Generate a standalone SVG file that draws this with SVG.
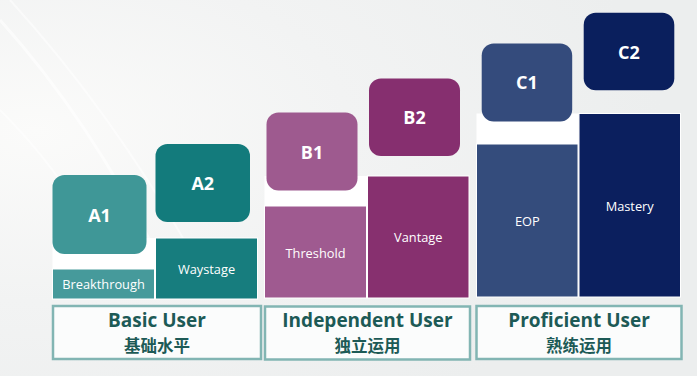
<svg xmlns="http://www.w3.org/2000/svg" width="697" height="376" viewBox="0 0 697 376">
<defs>
<radialGradient id="bg" cx="0.05" cy="0.35" r="0.9">
<stop offset="0" stop-color="#fbfbfa"/>
<stop offset="0.5" stop-color="#f2f3f3"/>
<stop offset="1" stop-color="#eceeee"/>
</radialGradient>
<style>
.pill{stroke:none}
.lbl{font-family:"Open Sans","Liberation Sans",sans-serif;font-weight:700;font-size:18px;fill:#ffffff;text-anchor:middle;dominant-baseline:central}
.sub{font-family:"Open Sans","Liberation Sans",sans-serif;font-size:12.8px;fill:#ffffff;text-anchor:middle;dominant-baseline:central}
.bar{stroke:#ffffff;stroke-width:1}
.grp{fill:#fbfcfc;stroke:#82b5b3;stroke-width:2.5}
.en{font-family:"Open Sans","Liberation Sans",sans-serif;font-weight:700;font-size:19px;fill:#1d5a56;text-anchor:middle}
.zh{font-family:"Noto Sans CJK SC",sans-serif;font-weight:700;font-size:16.5px;fill:#1d5a56;text-anchor:middle}
.gap{fill:#ffffff}
</style>
</defs>
<rect width="697" height="376" fill="url(#bg)"/>
<path d="M0,20 Q90,120 160,260" fill="none" stroke="#ffffff" stroke-width="3" opacity="0.6"/>
<path d="M10,0 Q110,110 190,250" fill="none" stroke="#ffffff" stroke-width="2" opacity="0.5"/>
<path d="M0,110 Q60,170 90,230" fill="none" stroke="#ffffff" stroke-width="2" opacity="0.5"/>

<g id="connectors"></g>

<rect class="gap" x="52.5" y="238" width="103" height="31"/>
<rect class="gap" x="264.5" y="176" width="103" height="30"/>
<rect class="gap" x="476.5" y="113.5" width="102" height="31"/>

<g id="A1">
<rect class="bar" x="52.5" y="269" width="102" height="30" fill="#469a9b"/>
<text class="sub" x="103.5" y="284">Breakthrough</text>
<rect class="pill" x="52.5" y="175" width="94" height="79" rx="12" fill="#3f9797"/>
<text class="lbl" x="99.5" y="214.5">A1</text>
</g>
<g id="A2">
<rect class="bar" x="155.5" y="238" width="102" height="61" fill="#177d7e"/>
<text class="sub" x="206.5" y="269">Waystage</text>
<rect class="pill" x="155.5" y="144" width="94.5" height="78" rx="12" fill="#137b7c"/>
<text class="lbl" x="202.8" y="182.5">A2</text>
</g>
<g id="B1">
<rect class="bar" x="264.5" y="206" width="102" height="92" fill="#9f5a90"/>
<text class="sub" x="315.5" y="252.5">Threshold</text>
<rect class="pill" x="266.5" y="112.5" width="91" height="78" rx="12" fill="#9e5a8f"/>
<text class="lbl" x="312" y="151.5">B1</text>
</g>
<g id="B2">
<rect class="bar" x="367.5" y="176" width="101.5" height="122" fill="#87306f"/>
<text class="sub" x="418.3" y="236.5">Vantage</text>
<rect class="pill" x="369" y="78.5" width="91" height="77.5" rx="12" fill="#862f6f"/>
<text class="lbl" x="414.5" y="117.3">B2</text>
</g>
<g id="C1">
<rect class="bar" x="476.5" y="144" width="101.5" height="153" fill="#344c7c"/>
<text class="sub" x="527.3" y="220.5">EOP</text>
<rect class="pill" x="481.7" y="43.5" width="90.5" height="78" rx="12" fill="#344b7c"/>
<text class="lbl" x="527" y="81.7">C1</text>
</g>
<g id="C2">
<rect class="bar" x="579" y="113.5" width="101.5" height="183.5" fill="#0b1f5e"/>
<text class="sub" x="629.7" y="205.5">Mastery</text>
<rect class="pill" x="583.7" y="12.7" width="90.6" height="77.6" rx="12" fill="#0a1f5d"/>
<text class="lbl" x="629" y="51.5">C2</text>
</g>

<g id="basic">
<rect class="grp" x="53" y="306" width="208" height="53"/>
<text class="en" x="157" y="327">Basic User</text>
<text class="zh" x="157" y="351.5">基础水平</text>
</g>
<g id="independent">
<rect class="grp" x="265" y="306.5" width="205" height="53"/>
<text class="en" x="367.5" y="327">Independent User</text>
<text class="zh" x="367.5" y="351.5">独立运用</text>
</g>
<g id="proficient">
<rect class="grp" x="476.5" y="306" width="205" height="53"/>
<text class="en" x="579" y="327">Proficient User</text>
<text class="zh" x="579" y="351.5">熟练运用</text>
</g>
</svg>
